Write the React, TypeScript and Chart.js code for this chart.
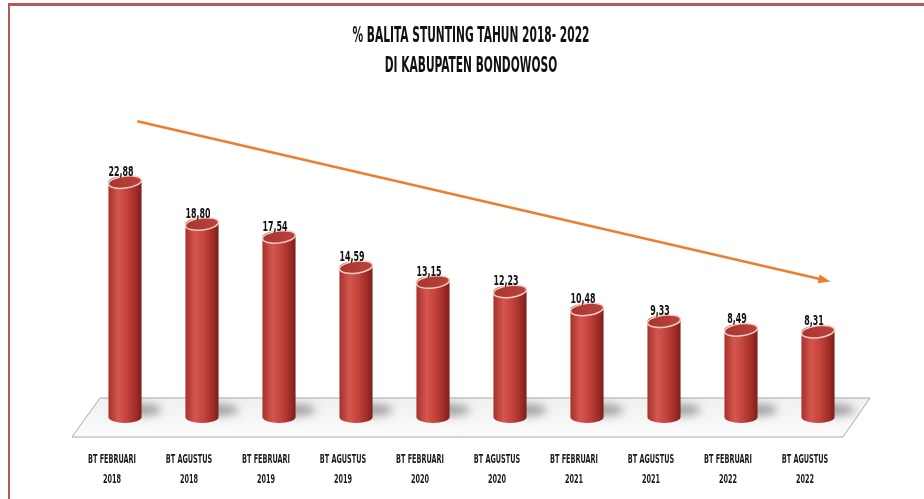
import React, { useEffect, useRef } from 'react';
import { Chart, registerables } from 'chart.js';

Chart.register(...registerables);

// ---------- data ----------
const TITLE_LINES = ['% BALITA STUNTING TAHUN 2018- 2022', 'DI KABUPATEN BONDOWOSO'];
const CATEGORIES = [
  ['BT FEBRUARI', '2018'],
  ['BT AGUSTUS', '2018'],
  ['BT FEBRUARI', '2019'],
  ['BT AGUSTUS', '2019'],
  ['BT FEBRUARI', '2020'],
  ['BT AGUSTUS', '2020'],
  ['BT FEBRUARI', '2021'],
  ['BT AGUSTUS', '2021'],
  ['BT FEBRUARI', '2022'],
  ['BT AGUSTUS', '2022'],
];
const STUNTING_PERCENT = [22.88, 18.8, 17.54, 14.59, 13.15, 12.23, 10.48, 9.33, 8.49, 8.31];
// trend arrow in data coordinates (category index, value)
const TREND_ARROW = [
  { x: 0.16, y: 28.8 },
  { x: 9.16, y: 13.2 },
];
const Y_MIN = 0;
const Y_MAX = 30;

const FONT = "'Liberation Sans Narrow', 'DejaVu Sans Condensed', 'Open Sans', sans-serif";

const fmt = (v: number) => v.toFixed(2).replace('.', ',');

const decorPlugin = {
  id: 'decor',
  beforeDatasetsDraw(chart: any) {
    const { ctx, chartArea } = chart;
    const meta = chart.getDatasetMeta(0);
    const base = meta.data.length ? meta.data[0].base : chartArea.bottom;
    // floor platform
    ctx.save();
    ctx.beginPath();
    ctx.moveTo(chartArea.left + 13.5, base - 19);
    ctx.lineTo(chartArea.right + 13.5, base - 19);
    ctx.lineTo(chartArea.right - 13.5, base + 20);
    ctx.lineTo(chartArea.left - 14.5, base + 20);
    ctx.closePath();
    const fg = ctx.createLinearGradient(0, base - 19, 0, base + 20);
    fg.addColorStop(0, '#f0f0f0');
    fg.addColorStop(1, '#fbfbfb');
    ctx.fillStyle = fg;
    ctx.fill();
    ctx.strokeStyle = '#a9a9a9';
    ctx.lineWidth = 1;
    ctx.stroke();
    ctx.restore();

    // shadows
    meta.data.forEach((bar: any) => {
      const { x, width } = bar.getProps(['x', 'width'], true);
      ctx.save();
      ctx.filter = 'blur(4px)';
      ctx.fillStyle = 'rgba(80,80,80,0.5)';
      ctx.beginPath();
      ctx.ellipse(x + width * 0.5, bar.base - 7, width * 0.6, 6, 0, 0, Math.PI * 2);
      ctx.fill();
      ctx.restore();
    });
  },
  afterDatasetsDraw(chart: any) {
    const { ctx } = chart;
    const meta = chart.getDatasetMeta(0);
    meta.data.forEach((bar: any, i: number) => {
      const { x, y, base, width } = bar.getProps(['x', 'y', 'base', 'width'], true);
      const rx = width / 2;
      const ry = 6;
      const L = x - rx;
      const R = x + rx;
      // body
      const g = ctx.createLinearGradient(L, 0, R, 0);
      g.addColorStop(0, '#a5322c');
      g.addColorStop(0.3, '#d4564e');
      g.addColorStop(0.55, '#c5443d');
      g.addColorStop(0.85, '#9d2b26');
      g.addColorStop(1, '#7c1e1a');
      ctx.save();
      ctx.beginPath();
      ctx.moveTo(L, y);
      ctx.lineTo(L, base);
      ctx.ellipse(x, base, rx, ry, 0, Math.PI, 0, true);
      ctx.lineTo(R, y);
      ctx.ellipse(x, y, rx, ry, 0, 0, Math.PI, true);
      ctx.closePath();
      ctx.fillStyle = g;
      ctx.fill();
      // top face
      ctx.beginPath();
      ctx.ellipse(x, y, rx, ry, -0.12, 0, Math.PI * 2);
      const tg = ctx.createLinearGradient(L, 0, R, 0);
      tg.addColorStop(0, '#a7352f');
      tg.addColorStop(1, '#bb443d');
      ctx.fillStyle = tg;
      ctx.fill();
      ctx.strokeStyle = '#f5cdc2';
      ctx.lineWidth = 1.5;
      ctx.stroke();
      ctx.restore();

      // value label
      ctx.save();
      ctx.font = `bold 14px ${FONT}`;
      ctx.fillStyle = '#111';
      ctx.textAlign = 'center';
      ctx.textBaseline = 'middle';
      const t = fmt(STUNTING_PERCENT[i]);
      const sx = 25 / ctx.measureText('22,88').width;
      ctx.translate(x - 4, y - 10);
      ctx.scale(sx, 1);
      ctx.fillText(t, 0, 0);
      ctx.restore();
    });
  },
  afterDraw(chart: any) {
    const { ctx, scales, chartArea } = chart;
    // category labels (positioned by the x scale)
    ctx.save();
    ctx.fillStyle = '#1a1a1a';
    ctx.textAlign = 'center';
    ctx.textBaseline = 'middle';
    ctx.font = `bold 13px ${FONT}`;
    const lsx = 48 / ctx.measureText('BT FEBRUARI').width;
    (chart.data.labels as string[][]).forEach((lab, i) => {
      const px = scales.x.getPixelForValue(i) - 13;
      lab.forEach((line, k) => {
        ctx.save();
        ctx.translate(px, chartArea.bottom + 43 + k * 20);
        ctx.scale(lsx, 1);
        ctx.fillText(line, 0, 0);
        ctx.restore();
      });
    });
    ctx.restore();

    // trend arrow
    const p1 = { x: scales.x.getPixelForValue(TREND_ARROW[0].x), y: scales.y.getPixelForValue(TREND_ARROW[0].y) };
    const p2 = { x: scales.x.getPixelForValue(TREND_ARROW[1].x), y: scales.y.getPixelForValue(TREND_ARROW[1].y) };
    const ang = Math.atan2(p2.y - p1.y, p2.x - p1.x);
    const head = 12;
    ctx.save();
    ctx.strokeStyle = '#ED7D31';
    ctx.fillStyle = '#ED7D31';
    ctx.lineWidth = 2.5;
    ctx.beginPath();
    ctx.moveTo(p1.x, p1.y);
    ctx.lineTo(p2.x - Math.cos(ang) * head * 0.8, p2.y - Math.sin(ang) * head * 0.8);
    ctx.stroke();
    ctx.beginPath();
    ctx.moveTo(p2.x, p2.y);
    ctx.lineTo(p2.x - head * Math.cos(ang) + 4.5 * Math.sin(ang), p2.y - head * Math.sin(ang) - 4.5 * Math.cos(ang));
    ctx.lineTo(p2.x - head * Math.cos(ang) - 4.5 * Math.sin(ang), p2.y - head * Math.sin(ang) + 4.5 * Math.cos(ang));
    ctx.closePath();
    ctx.fill();
    ctx.restore();

    // title
    ctx.save();
    ctx.fillStyle = '#111';
    ctx.textAlign = 'center';
    ctx.textBaseline = 'middle';
    ctx.font = `bold 21px ${FONT}`;
    const w0 = ctx.measureText(TITLE_LINES[0]).width;
    const sx = 237 / w0;
    [37, 67].forEach((ty, k) => {
      ctx.save();
      ctx.translate(471, ty);
      ctx.scale(sx, 1);
      ctx.fillText(TITLE_LINES[k], 0, 0);
      ctx.restore();
    });
    ctx.restore();

    // frame lines
    ctx.save();
    ctx.strokeStyle = '#b5585c';
    ctx.lineWidth = 3;
    ctx.beginPath();
    ctx.moveTo(8, 4.5);
    ctx.lineTo(924, 4.5);
    ctx.stroke();
    ctx.lineWidth = 2;
    ctx.beginPath();
    ctx.moveTo(9, 4);
    ctx.lineTo(9, 499);
    ctx.stroke();
    ctx.restore();
  },
};

export default function App() {
  const ref = useRef<HTMLCanvasElement | null>(null);
  useEffect(() => {
    if (!ref.current) return;
    const chart = new Chart(ref.current, {
      type: 'bar',
      data: {
        labels: CATEGORIES,
        datasets: [
          {
            data: STUNTING_PERCENT,
            backgroundColor: 'rgba(0,0,0,0)',
            borderWidth: 0,
            categoryPercentage: 1,
            barPercentage: 0.43,
          },
        ],
      },
      options: {
        responsive: false,
        animation: false,
        layout: { padding: { top: 109, left: 86.5, right: 67.5, bottom: 82 } },
        plugins: {
          legend: { display: false },
          tooltip: { enabled: false },
          title: { display: false },
        },
        scales: {
          x: { display: false, ticks: { autoSkip: false } },
          y: { display: false, min: Y_MIN, max: Y_MAX },
        },
      },
      plugins: [decorPlugin],
    });
    return () => chart.destroy();
  }, []);
  return (
    <div style={{ position: 'fixed', left: 0, top: 0, width: 924, height: 499, background: '#fff' }}>
      <canvas ref={ref} width={924} height={499} />
    </div>
  );
}
